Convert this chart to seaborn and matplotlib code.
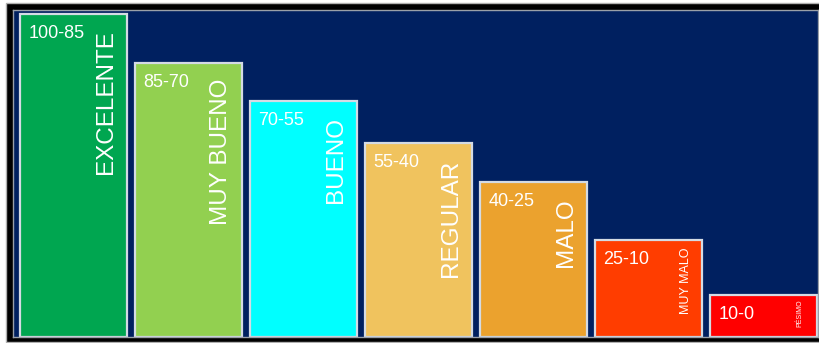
import matplotlib
matplotlib.use("Agg")
import matplotlib.pyplot as plt
from matplotlib.patches import Rectangle
import seaborn as sns
import pandas as pd

categories = ["EXCELENTE", "MUY BUENO", "BUENO", "REGULAR", "MALO", "MUY MALO", "PÉSIMO"]
ranges = ["100-85", "85-70", "70-55", "55-40", "40-25", "25-10", "10-0"]
values = [100, 85, 73, 60, 48, 30, 13]
colors = ["#00a650", "#92d050", "#00ffff", "#f0c35e", "#eba22e", "#ff3d00", "#ff0000"]
name_sizes = [17.5, 17.5, 17.5, 17.5, 17.5, 9, 5]

sns.set_theme(style="white")
plt.rcParams["font.family"] = ["Liberation Sans", "DejaVu Sans"]

W, H = 820, 343
fig = plt.figure(figsize=(W / 100, H / 100), dpi=100, facecolor="white")

# outer black frame
frame = Rectangle((6 / W, 1 / H), (W + 4 - 6) / W, (342 - 3) / H,
                  transform=fig.transFigure, facecolor="black",
                  edgecolor="#b0b0b0", linewidth=1.0, zorder=-10)
fig.patches.append(frame)

ax = fig.add_axes([13 / W, 6 / H, (818 - 13) / W, (337 - 10) / H])
ax.set_zorder(5)
ax.set_facecolor("#002060")

df = pd.DataFrame({"cat": categories, "val": values})
sns.barplot(data=df, x="cat", y="val", hue="cat", palette=colors, legend=False,
            width=0.93, edgecolor="#d4dbe4", linewidth=1.6, saturation=1, ax=ax)

ax.set_xlim(-0.53, 6.47)
ax.set_ylim(0, 101.3)
ax.set_xlabel("")
ax.set_ylabel("")
ax.set_xticks([])
ax.set_yticks([])
for s in ax.spines.values():
    s.set_color("#9aa0a8")
    s.set_linewidth(1.0)

half = 0.465
for i, (cat, rng, v, fs) in enumerate(zip(categories, ranges, values, name_sizes)):
    ax.annotate(rng, xy=(i - half, v), xytext=(8, -11), textcoords="offset pixels",
                ha="left", va="top", color="white", fontsize=13)
    if fs >= 15:
        off = (-21, -16)
    elif fs >= 8:
        off = (-16, -7)
    else:
        off = (-18, -4)
    ax.annotate(cat, xy=(i + half, v), xytext=off, textcoords="offset pixels",
                ha="center", va="top", rotation=90, color="white", fontsize=fs)

fig.savefig("out.png", dpi=100, facecolor="white")
